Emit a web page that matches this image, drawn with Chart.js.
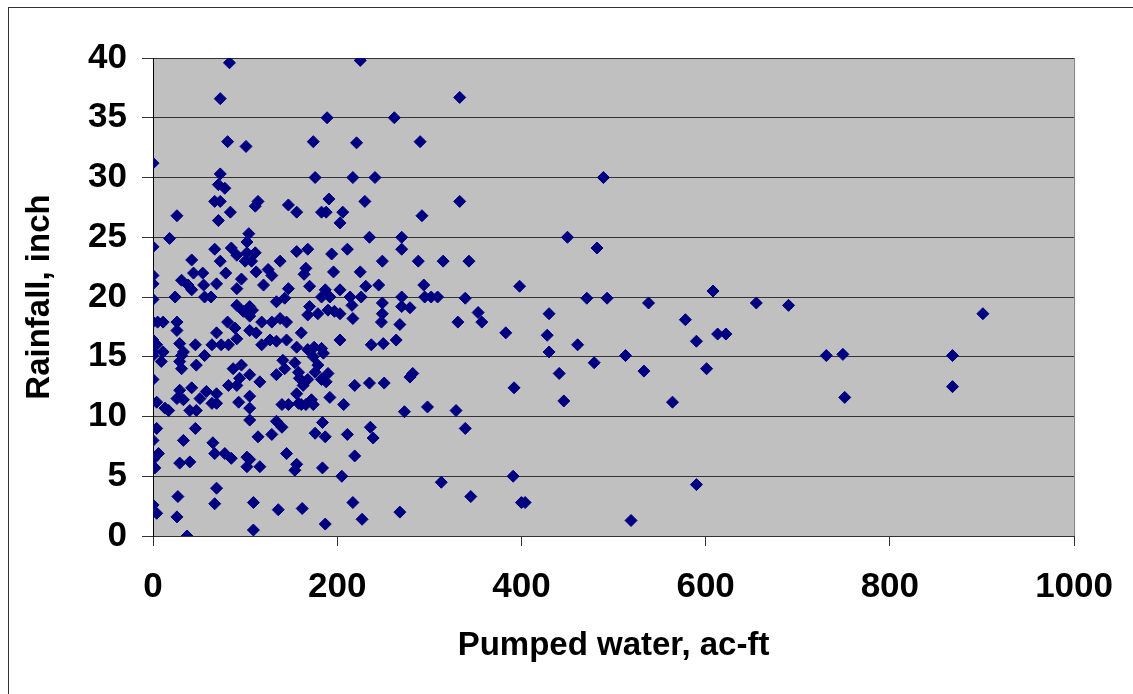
<!DOCTYPE html>
<html>
<head>
<meta charset="utf-8">
<script src="https://cdn.jsdelivr.net/npm/chart.js@4.4.1/dist/chart.umd.min.js"></script>
<style>
  html, body { margin: 0; padding: 0; background: #fff; }
  #wrap { width: 1133px; height: 694px; position: relative; }
</style>
</head>
<body>
<div id="wrap"><canvas id="grafico"></canvas></div>
<script>
// Pumped water (ac-ft) and rainfall (inch)
const pumpedWater = [
  83, 73, 81, 101, 0, 73, 71, 78, 67, 73, 114, 111, 147, 26, 84, 71, 104, 102, 18, 0,
  67, 85, 91, 102, 111, 100, 107, 73, 42, 138, 44, 54, 79, 112, 125, 129, 0, 0, 31, 38,
  42, 55, 69, 96, 91, 120, 147,
  0, 24, 56, 63, 134, 143, 91, 105, 108, 98, 0, 5, 11, 26, 26, 81, 105, 118, 129, 138,
  145, 69, 89, 105, 112, 91, 0, 4, 0, 0, 11, 9, 29, 33, 31, 46, 56, 64, 74, 82,
  118, 127, 134, 145, 29, 31, 47, 87, 96, 105, 94, 91, 116, 134, 141, 143, 0, 82, 29, 42,
  26, 33, 51, 58, 69, 64, 69, 4, 13, 17, 40, 47, 93, 105, 105, 105, 140, 4, 0, 46,
  33, 65, 67, 78, 85, 114, 129, 134, 140, 0, 6, 2, 29, 40, 102, 105, 116, 102, 145, 69,
  27, 0, 4, 26, 67, 109, 136, 109, 37,
  225, 189, 262, 174, 221, 290, 176, 217, 241, 156, 191, 183, 188, 206, 203, 230, 292, 235, 270, 270,
  156, 168, 194, 211, 249, 288, 315, 166, 164, 196, 225, 170, 187, 203, 231, 245, 294, 183, 192, 214,
  226, 270, 295, 302, 309,
  249, 249, 248, 270, 279, 170, 168, 179, 190, 197, 203, 216, 217, 161, 268, 264, 203, 237, 250, 156,
  168, 175, 183, 185, 174, 154, 179, 176, 158, 190, 183, 188, 159, 163, 168, 219, 235, 251, 279, 282,
  156, 158, 172, 174, 161, 166, 192, 207, 147, 273, 298, 184, 176, 187, 211, 236, 239, 219, 156, 154,
  184, 205, 313, 162, 217, 227, 268, 187,
  489, 333, 333, 450, 482, 343, 398, 339, 471, 493, 353, 357, 331, 430, 383, 428, 461, 430, 479, 513,
  441, 392, 446, 329, 339, 391, 345, 400, 404, 519,
  608, 538, 655, 690, 578, 613, 622, 590, 533, 601, 564, 731, 749, 751, 590, 868, 868, 901
];
const rainfall = [
  39.6, 36.6, 33.0, 32.6, 31.2, 30.3, 29.4, 29.1, 28.0, 28.0, 28.0, 27.6, 27.7, 26.8, 27.1, 26.4, 25.3, 24.6, 24.9, 24.2,
  24.0, 24.1, 23.5, 23.7, 23.7, 23.0, 23.0, 23.0, 23.1, 23.0, 22.0, 22.0, 22.0, 22.1, 22.3, 21.8, 21.8, 21.1, 21.4, 21.0,
  20.6, 21.0, 21.1, 21.5, 20.7, 21.0, 20.7,
  19.8, 20.0, 20.0, 20.0, 19.6, 19.9, 19.3, 19.2, 18.9, 18.8, 17.9, 17.9, 17.9, 17.9, 17.2, 17.9, 18.4, 17.9, 17.9, 18.2,
  17.9, 17.0, 17.4, 17.2, 17.0, 16.5, 16.4, 16.0, 15.4, 15.1, 15.4, 14.6, 16.1, 15.4, 15.1, 16.0, 15.1, 16.0, 16.0, 16.0,
  16.0, 16.4, 16.3, 16.4, 14.6, 14.0, 14.3, 14.0, 14.3, 13.5, 13.2, 12.6, 12.9, 13.5, 14.7, 14.0, 13.1, 12.6, 12.2, 12.4,
  11.5, 11.4, 11.5, 12.1, 11.9, 11.1, 11.1, 11.2, 10.7, 10.5, 10.5, 10.5, 11.2, 11.7, 10.7, 9.7, 11.0, 9.0, 8.0, 9.0,
  8.0, 7.8, 6.9, 6.9, 6.5, 8.3, 8.5, 9.6, 9.1, 6.4, 6.9, 5.7, 6.1, 6.2, 6.6, 6.4, 5.8, 5.8, 6.9, 4.0,
  3.3, 2.6, 1.9, 1.6, 2.7, 2.8, 2.2, 0.5, 0,
  39.8, 35.0, 35.0, 33.0, 32.9, 33.0, 30.0, 30.0, 30.0, 27.1, 28.2, 27.1, 27.1, 27.1, 26.2, 28.0, 26.8, 25.0, 25.0, 24.0,
  23.8, 24.0, 23.6, 24.0, 23.0, 23.0, 23.0, 22.4, 21.9, 22.1, 22.1, 20.9, 20.6, 20.6, 20.9, 21.0, 21.0, 20.0, 20.0, 20.0,
  20.0, 20.0, 20.0, 20.0, 20.0,
  19.5, 18.6, 17.9, 19.2, 19.1, 19.2, 18.5, 18.6, 18.9, 18.8, 18.6, 19.3, 18.2, 17.0, 17.7, 16.4, 16.4, 16.0, 16.1, 15.8,
  15.6, 15.8, 15.7, 15.3, 15.0, 14.5, 14.3, 13.7, 13.7, 13.6, 13.1, 12.9, 13.2, 12.6, 13.1, 12.6, 12.8, 12.8, 13.3, 13.6,
  11.9, 11.1, 11.4, 11.0, 11.0, 11.0, 11.6, 11.0, 11.0, 10.4, 10.8, 9.5, 8.6, 8.3, 8.5, 9.1, 8.2, 6.7, 6.0, 5.5,
  5.7, 5.0, 4.5, 2.3, 2.8, 1.4, 2.0, 1.0,
  30.0, 28.0, 36.7, 25.0, 24.1, 23.0, 20.9, 19.9, 19.9, 19.9, 18.7, 17.9, 17.9, 18.6, 17.0, 16.8, 16.0, 15.4, 14.5, 15.1,
  13.6, 12.4, 11.3, 10.5, 9.0, 5.0, 3.3, 2.8, 2.8, 1.3,
  20.5, 19.5, 19.5, 19.3, 18.1, 16.9, 16.9, 16.3, 13.8, 14.0, 11.2, 15.1, 15.2, 11.6, 4.3, 15.1, 12.5, 18.6
];
const xTicks = [0, 200, 400, 600, 800, 1000];
const yTicks = [0, 5, 10, 15, 20, 25, 30, 35, 40];

const pontos = pumpedWater.map((x, i) => ({ x: x, y: rainfall[i] }));

// fundo cinza da área do gráfico e moldura externa
const fundo = {
  id: 'fundo',
  beforeDraw(chart) {
    const { ctx, chartArea: a } = chart;
    ctx.save();
    ctx.fillStyle = '#fff';
    ctx.fillRect(0, 0, chart.width, chart.height);
    ctx.strokeStyle = '#333';
    ctx.lineWidth = 1;
    ctx.strokeRect(8.5, 7.5, 1300, 1300);
    ctx.fillStyle = '#c0c0c0';
    ctx.fillRect(a.left, a.top, a.right - a.left, a.bottom - a.top);
    ctx.strokeStyle = '#808080';
    ctx.strokeRect(a.left + 0.5, a.top + 0.5, a.right - a.left, a.bottom - a.top);
    ctx.restore();
  }
};

const fonteEixo = { family: 'Liberation Sans, Arial, sans-serif', size: 35, weight: 'bold' };
const fonteTitulo = { family: 'Liberation Sans, Arial, sans-serif', size: 33, weight: 'bold' };

new Chart(document.getElementById('grafico'), {
  type: 'scatter',
  data: {
    datasets: [{
      label: 'Rainfall',
      data: pontos,
      pointStyle: 'rectRot',
      pointRadius: 6,
      pointHoverRadius: 6,
      backgroundColor: '#000080',
      borderColor: '#000080',
      borderWidth: 1
    }]
  },
  options: {
    responsive: true,
    maintainAspectRatio: false,
    animation: false,
    layout: { padding: { top: 58, right: 58, left: 0, bottom: 0 } },
    plugins: {
      legend: { display: false },
      tooltip: { enabled: false }
    },
    scales: {
      x: {
        type: 'linear',
        min: 0,
        max: 1000,
        afterBuildTicks: s => { s.ticks = xTicks.map(v => ({ value: v })); },
        afterFit: s => { s.height = 158; },
        ticks: { font: fonteEixo, color: '#000', padding: 20, maxRotation: 0, callback: v => String(v) },
        grid: { drawOnChartArea: false, drawTicks: true, tickLength: 10, color: '#333' },
        border: { color: '#333' },
        title: {
          display: true,
          text: 'Pumped water, ac-ft',
          font: fonteTitulo,
          color: '#000',
          padding: { top: 0, bottom: 28 }
        }
      },
      y: {
        min: 0,
        max: 40,
        afterBuildTicks: s => { s.ticks = yTicks.map(v => ({ value: v })); },
        afterFit: s => { s.width = 153; },
        ticks: { font: fonteEixo, color: '#000', padding: 15, callback: v => String(v) },
        grid: { color: '#333', tickLength: 11 },
        border: { color: '#000' },
        title: {
          display: true,
          text: 'Rainfall, inch',
          font: fonteTitulo,
          color: '#000',
          padding: { top: 20, bottom: 0 }
        }
      }
    }
  },
  plugins: [fundo]
});
</script>
</body>
</html>
